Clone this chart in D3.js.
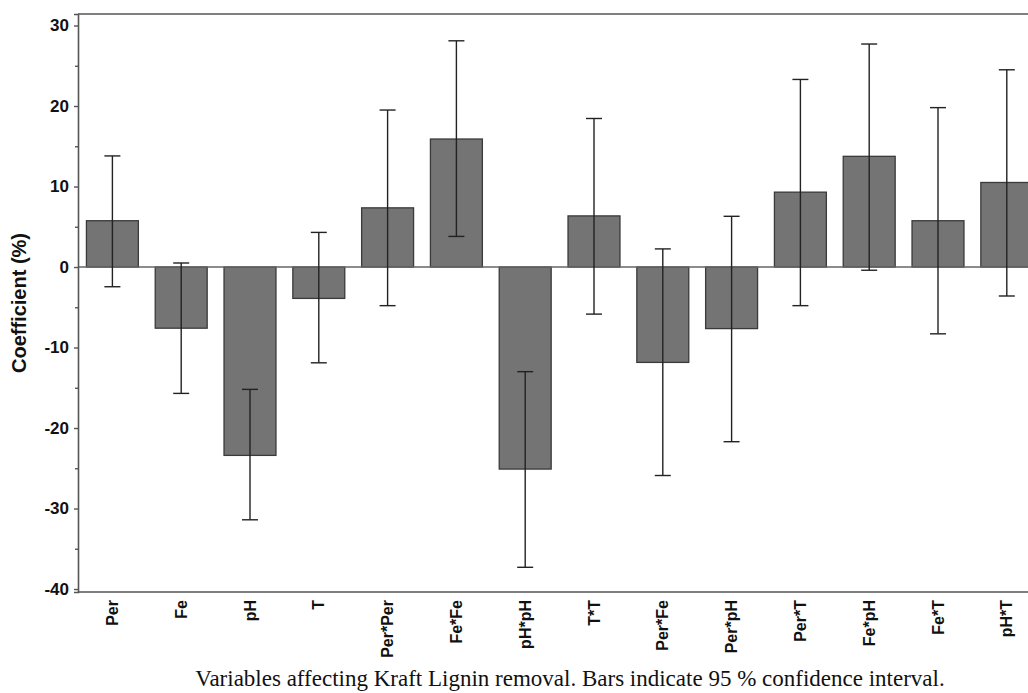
<!DOCTYPE html>
<html>
<head>
<meta charset="utf-8">
<script src="https://cdn.jsdelivr.net/npm/d3@7"></script>
<style>
  html, body { margin: 0; padding: 0; background: #fff; }
  svg { display: block; }
</style>
</head>
<body>
<div id="chart"></div>
<script>
// data
var categories = ["Per", "Fe", "pH", "T", "Per*Per", "Fe*Fe", "pH*pH", "T*T",
                  "Per*Fe", "Per*pH", "Per*T", "Fe*pH", "Fe*T", "pH*T"];
var coefficients = [5.75, -7.6, -23.4, -3.9, 7.35, 15.9, -25.1, 6.35, -11.85, -7.65, 9.3, 13.75, 5.75, 10.5];
var ciLow  = [-2.45, -15.7, -31.4, -11.9, -4.8, 3.8, -37.3, -5.85, -25.9, -21.7, -4.8, -0.4, -8.3, -3.6];
var ciHigh = [13.8, 0.5, -15.2, 4.3, 19.5, 28.1, -13.0, 18.45, 2.25, 6.3, 23.3, 27.7, 19.8, 24.5];
var yTicks = [-40, -30, -20, -10, 0, 10, 20, 30];
var yMinorTicks = [-35, -25, -15, -5, 5, 15, 25];
var caption = "Variables affecting Kraft Lignin removal. Bars indicate 95 % confidence interval.";

var width = 1028, height = 693;
var margin = { top: 14, left: 78, bottom: 101 };

var data = categories.map(function (c, i) {
    return { name: c, value: coefficients[i], lo: ciLow[i], hi: ciHigh[i] };
});

var svg = d3.select("#chart").append("svg")
    .attr("width", width)
    .attr("height", height);

var x = d3.scaleBand()
    .domain(categories)
    .range([margin.left, margin.left + 14 * 68.8])
    .paddingInner(0.245)
    .paddingOuter(0.1225);

var y = d3.scaleLinear()
    .domain([-40.37, 31.43])
    .range([height - margin.bottom, margin.top]);

var axisColor = "#555";

// top frame line
svg.append("line")
    .attr("x1", margin.left).attr("x2", width)
    .attr("y1", margin.top).attr("y2", margin.top)
    .attr("stroke", axisColor).attr("stroke-width", 1.6);

// bars
svg.append("g").selectAll("rect")
    .data(data)
    .join("rect")
    .attr("x", function (d) { return x(d.name); })
    .attr("width", x.bandwidth())
    .attr("y", function (d) { return y(Math.max(0, d.value)); })
    .attr("height", function (d) { return Math.abs(y(d.value) - y(0)); })
    .attr("fill", "#747474")
    .attr("stroke", "#3a3a3a")
    .attr("stroke-width", 1.3);

// zero line
svg.append("line")
    .attr("x1", margin.left).attr("x2", width)
    .attr("y1", y(0)).attr("y2", y(0))
    .attr("stroke", "#666").attr("stroke-width", 1.4);

// error bars
var capW = 8;
var err = svg.append("g").attr("stroke", "#222").attr("stroke-width", 1.4);
data.forEach(function (d) {
    var cx = x(d.name) + x.bandwidth() / 2;
    err.append("line")
        .attr("x1", cx).attr("x2", cx)
        .attr("y1", y(d.lo)).attr("y2", y(d.hi));
    err.append("line")
        .attr("x1", cx - capW).attr("x2", cx + capW)
        .attr("y1", y(d.lo)).attr("y2", y(d.lo));
    err.append("line")
        .attr("x1", cx - capW).attr("x2", cx + capW)
        .attr("y1", y(d.hi)).attr("y2", y(d.hi));
});

// y axis
var yAxis = svg.append("g")
    .attr("transform", "translate(" + margin.left + ",0)")
    .call(d3.axisLeft(y).tickValues(yTicks).tickSize(4).tickPadding(5)
        .tickFormat(function (d) { return String(d); }));
yAxis.select(".domain").attr("stroke", axisColor).attr("stroke-width", 1.6);
yAxis.selectAll(".tick line").attr("stroke", axisColor).attr("stroke-width", 1.4);
yAxis.selectAll(".tick text")
    .attr("font-family", "'Liberation Sans', Arial, sans-serif")
    .attr("font-weight", "bold")
    .attr("font-size", 17)
    .attr("fill", "#111");

svg.append("g")
    .attr("transform", "translate(" + margin.left + ",0)")
    .call(d3.axisLeft(y).tickValues(yMinorTicks).tickSize(3).tickFormat(""))
    .call(function (g) { g.select(".domain").remove(); })
    .selectAll(".tick line").attr("stroke", axisColor).attr("stroke-width", 1.4);

// x axis
var xAxis = svg.append("g")
    .attr("transform", "translate(0," + y.range()[0] + ")")
    .call(d3.axisBottom(x).tickSize(0).tickPadding(0));
xAxis.select(".domain").attr("stroke", axisColor).attr("stroke-width", 1.6)
    .attr("d", "M" + margin.left + ",0H" + width);
xAxis.selectAll(".tick text")
    .attr("font-family", "'Liberation Sans', Arial, sans-serif")
    .attr("font-weight", "bold")
    .attr("font-size", 16)
    .attr("fill", "#111")
    .attr("text-anchor", "end")
    .attr("dy", "0.35em")
    .attr("transform", "translate(0,8) rotate(-90)")
    .attr("x", 0).attr("y", 0);

// y axis title
svg.append("text")
    .attr("transform", "translate(26," + ((margin.top + y.range()[0]) / 2) + ") rotate(-90)")
    .attr("text-anchor", "middle")
    .attr("font-family", "'Liberation Sans', Arial, sans-serif")
    .attr("font-weight", "bold")
    .attr("font-size", 20)
    .attr("fill", "#111")
    .text("Coefficient (%)");

// caption
svg.append("text")
    .attr("x", 570)
    .attr("y", 686)
    .attr("text-anchor", "middle")
    .attr("font-family", "'Liberation Serif', 'Times New Roman', serif")
    .attr("font-size", 23)
    .attr("fill", "#111")
    .text(caption);
</script>
</body>
</html>
